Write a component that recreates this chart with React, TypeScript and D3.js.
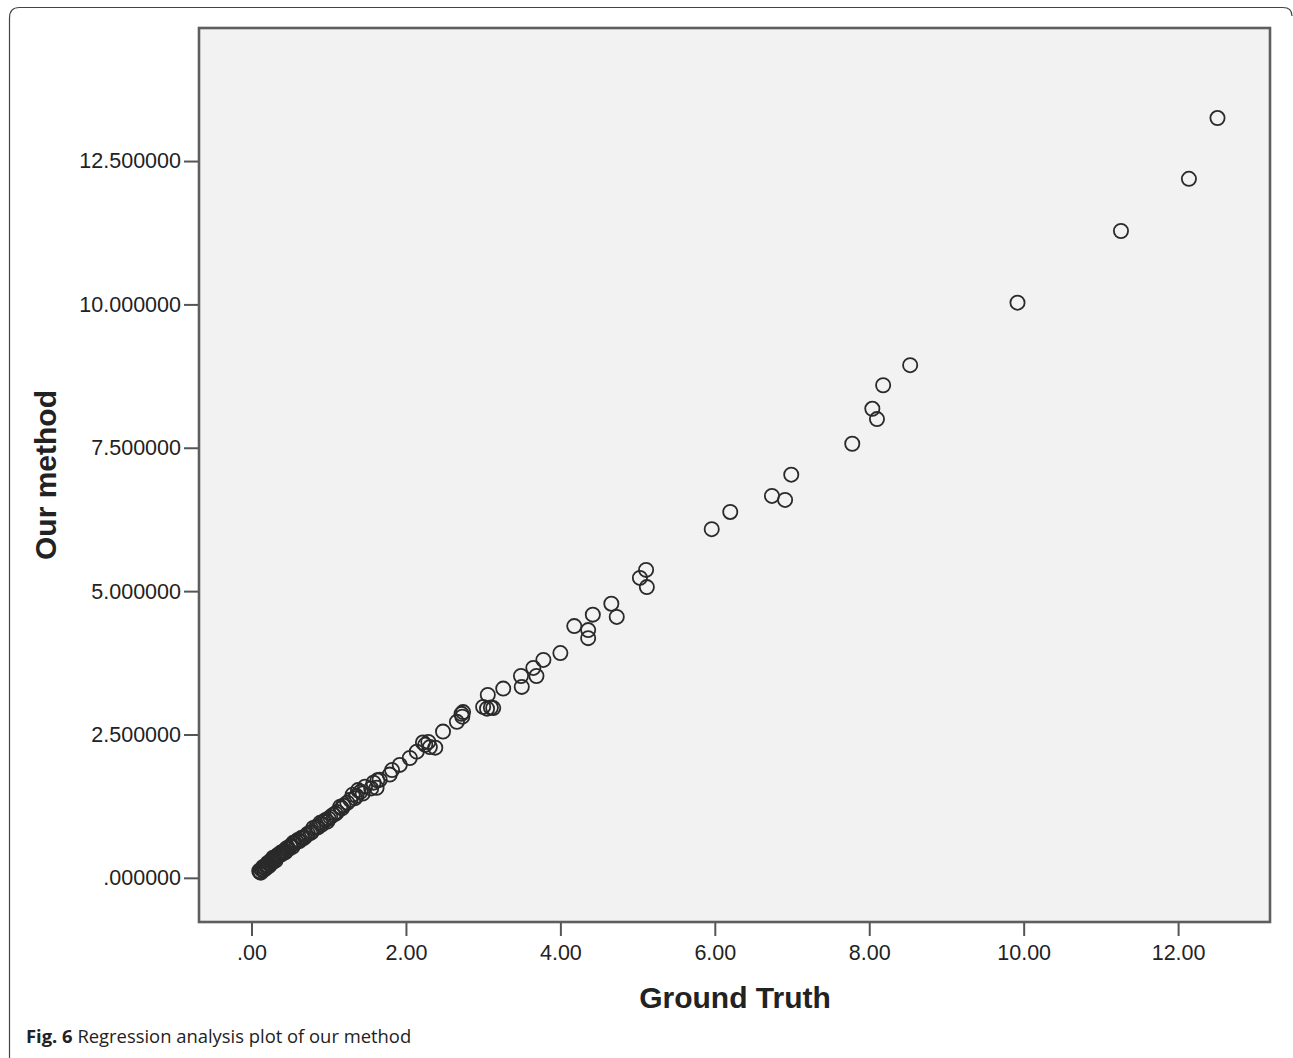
import React, { useRef, useEffect } from 'react';
import * as d3 from 'd3';

// ground truth (x) vs our method (y)
const groundTruth = [
    12.51, 12.14, 11.26, 9.92, 8.53, 8.18, 8.04, 8.10, 7.78, 6.99, 6.74, 6.91, 6.20, 5.96,
    5.11, 5.03, 5.12, 4.66, 4.73, 4.42, 4.18, 4.36, 4.36, 4.00, 3.78, 3.65, 3.69, 3.49, 3.50,
    3.26, 3.06, 3.00, 3.13, 3.05, 2.74, 2.73, 2.66, 2.48, 2.29, 2.31, 2.25, 2.38, 2.14, 2.05,
    1.92, 1.82, 1.79, 1.66, 1.58, 1.62, 1.47, 1.41, 1.31,
    1.38, 1.34, 1.24, 1.15, 1.11, 1.02, 0.98, 0.89, 0.80, 0.76, 0.69, 0.60, 0.54, 0.47, 0.41,
    0.34, 0.28, 0.21, 0.15, 0.11, 0.14, 0.19, 0.25, 0.32, 0.38, 0.45, 0.51, 0.58, 0.65, 0.73,
    0.84, 0.93, 1.06, 1.19, 1.28,
    0.10, 0.12, 0.13, 0.16, 0.17, 0.18, 0.20, 0.22, 0.23, 0.24, 0.26, 0.27, 0.29, 0.30, 0.31,
    0.33, 0.36, 0.37, 0.40, 0.42, 0.44, 0.48, 0.50, 0.53, 0.56, 0.62, 0.67, 0.71, 0.78, 0.86,
    0.91, 0.96, 1.00, 1.09, 1.17, 1.36, 1.44, 1.55, 1.63, 2.22, 2.72, 3.10,
];
const ourMethod = [
    13.25, 12.19, 11.28, 10.03, 8.94, 8.59, 8.18, 8.00, 7.57, 7.03, 6.66, 6.59, 6.38, 6.08,
    5.37, 5.23, 5.07, 4.78, 4.55, 4.59, 4.39, 4.32, 4.18, 3.92, 3.80, 3.66, 3.52, 3.52, 3.33,
    3.30, 3.19, 2.98, 2.96, 2.95, 2.89, 2.81, 2.72, 2.55, 2.37, 2.28, 2.32, 2.27, 2.20, 2.09,
    1.97, 1.88, 1.80, 1.71, 1.66, 1.57, 1.59, 1.50, 1.45,
    1.53, 1.39, 1.31, 1.24, 1.15, 1.06, 0.98, 0.96, 0.87, 0.78, 0.71, 0.66, 0.61, 0.52, 0.45,
    0.40, 0.35, 0.26, 0.19, 0.10, 0.14, 0.21, 0.30, 0.37, 0.44, 0.51, 0.56, 0.63, 0.70, 0.77,
    0.89, 0.98, 1.10, 1.26, 1.36,
    0.12, 0.09, 0.15, 0.14, 0.19, 0.16, 0.22, 0.20, 0.26, 0.23, 0.29, 0.27, 0.31, 0.34, 0.30,
    0.36, 0.39, 0.41, 0.42, 0.47, 0.45, 0.50, 0.55, 0.54, 0.60, 0.64, 0.69, 0.74, 0.80, 0.88,
    0.93, 1.01, 1.03, 1.12, 1.21, 1.43, 1.47, 1.56, 1.70, 2.36, 2.86, 2.97,
];

const xTicks = [0, 2, 4, 6, 8, 10, 12];
const xTickLabels = ['.00', '2.00', '4.00', '6.00', '8.00', '10.00', '12.00'];
const yTicks = [0, 2.5, 5, 7.5, 10, 12.5];
const yTickLabels = ['.000000', '2.500000', '5.000000', '7.500000', '10.000000', '12.500000'];

const App: React.FC = () => {
    const svgRef = useRef<SVGSVGElement | null>(null);
    const width = 1293, height = 1058;
    const plot = { left: 199, top: 28, right: 1270, bottom: 922 };

    useEffect(() => {
        if (!svgRef.current) return;
        const svg = d3.select(svgRef.current);
        svg.selectAll('*').remove();

        const x = d3.scaleLinear().domain([-0.68, 13.19]).range([plot.left, plot.right]);
        const y = d3.scaleLinear().domain([-0.77, 14.82]).range([plot.bottom, plot.top]);

        // outer figure frame (bottom cut off)
        svg.append('path')
            .attr('d', `M9.5,${height} V18 Q9.5,7.5 19.5,7.5 H1283 Q1292,7.5 1292,16`)
            .attr('fill', 'none')
            .attr('stroke', '#444')
            .attr('stroke-width', 1.2);

        svg.append('rect')
            .attr('x', plot.left).attr('y', plot.top)
            .attr('width', plot.right - plot.left).attr('height', plot.bottom - plot.top)
            .attr('fill', '#f2f2f2')
            .attr('stroke', '#5e5e5e')
            .attr('stroke-width', 2.6);

        const font = '"Liberation Sans", Arial, sans-serif';

        const xAxis = svg.append('g')
            .attr('transform', `translate(0,${plot.bottom + 1})`)
            .call(d3.axisBottom(x).tickValues(xTicks).tickFormat((_, i) => xTickLabels[i])
                .tickSize(13).tickPadding(9).tickSizeOuter(0));
        const yAxis = svg.append('g')
            .attr('transform', `translate(${plot.left - 1},0)`)
            .call(d3.axisLeft(y).tickValues(yTicks).tickFormat((_, i) => yTickLabels[i])
                .tickSize(14).tickPadding(3).tickSizeOuter(0));

        [xAxis, yAxis].forEach(a => {
            a.select('.domain').remove();
            a.selectAll('line').attr('stroke', '#555').attr('stroke-width', 2);
            a.selectAll('text')
                .attr('fill', '#222')
                .style('font-family', font)
                .style('font-size', '21.5px');
        });

        svg.append('g')
            .selectAll('circle')
            .data(groundTruth.map((g, i) => [g, ourMethod[i]]))
            .join('circle')
            .attr('cx', d => x(d[0]))
            .attr('cy', d => y(d[1]))
            .attr('r', 7.1)
            .attr('fill', 'none')
            .attr('stroke', '#2a2a2a')
            .attr('stroke-width', 1.8);

        svg.append('text')
            .attr('x', 735).attr('y', 1008)
            .attr('text-anchor', 'middle')
            .style('font-family', font)
            .style('font-weight', 'bold')
            .style('font-size', '30px')
            .attr('fill', '#222')
            .text('Ground Truth');

        svg.append('text')
            .attr('transform', 'translate(56,475) rotate(-90)')
            .attr('text-anchor', 'middle')
            .style('font-family', font)
            .style('font-weight', 'bold')
            .style('font-size', '30px')
            .attr('fill', '#222')
            .text('Our method');

        const cap = svg.append('text')
            .attr('x', 26).attr('y', 1043)
            .style('font-family', '"Open Sans", "Noto Sans", sans-serif')
            .style('font-size', '18.4px')
            .attr('fill', '#222');
        cap.append('tspan').style('font-weight', 'bold').text('Fig. 6');
        cap.append('tspan').text(' Regression analysis plot of our method');
    }, []);

    return (
        <svg ref={svgRef} width={width} height={height}
            style={{ position: 'absolute', left: 0, top: 0, background: '#fff' }} />
    );
};

export default App;
